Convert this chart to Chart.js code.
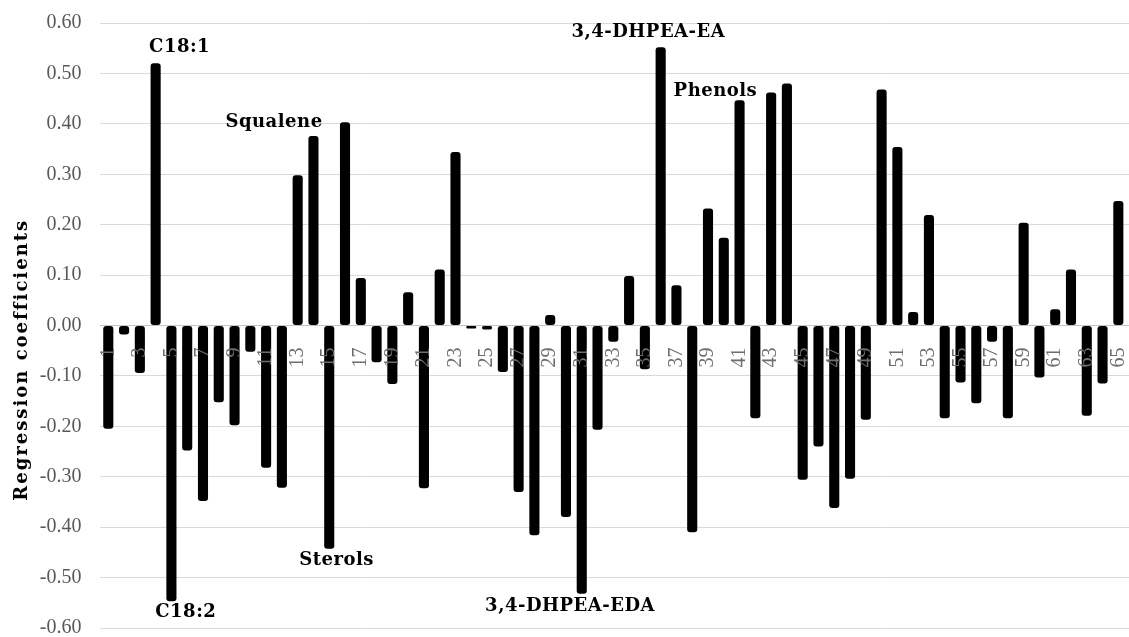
<!DOCTYPE html>
<html>
<head>
<meta charset="utf-8">
<script src="https://cdn.jsdelivr.net/npm/chart.js@4.4.1/dist/chart.umd.min.js"></script>
<style>
  html, body { margin: 0; padding: 0; background: #fff; overflow: hidden; }
  #wrap { width: 1150px; height: 637px; }
</style>
</head>
<body>
<div id="wrap"><canvas id="coefChart"></canvas></div>
<script>
// variable numbers 1..66
const categories = [
  '1', '2', '3', '4', '5', '6', '7', '8', '9', '10',
  '11', '12', '13', '14', '15', '16', '17', '18', '19', '20',
  '21', '22', '23', '24', '25', '26', '27', '28', '29', '30',
  '31', '32', '33', '34', '35', '36', '37', '38', '39', '40',
  '41', '42', '43', '44', '45', '46', '47', '48', '49', '50',
  '51', '52', '53', '54', '55', '56', '57', '58', '59', '60',
  '61', '62', '63', '64', '65', '66'
];

// regression coefficients
const coefficients = [
  -0.205, -0.018, -0.094, 0.520, -0.547, -0.248, -0.348, -0.152, -0.198, -0.052,
  -0.282, -0.322, 0.298, 0.376, -0.443, 0.403, 0.094, -0.073, -0.116, 0.066,
  -0.323, 0.111, 0.344, -0.006, -0.008, -0.092, -0.330, -0.416, 0.021, -0.380,
  -0.532, -0.207, -0.032, 0.098, -0.087, 0.552, 0.080, -0.410, 0.232, 0.174,
  0.447, -0.184, 0.462, 0.480, -0.306, -0.240, -0.362, -0.304, -0.187, 0.468,
  0.354, 0.027, 0.219, -0.184, -0.113, -0.154, -0.032, -0.184, 0.204, -0.103,
  0.032, 0.111, -0.179, -0.115, 0.247, -0.141
];

const yMin = -0.6;
const yMax = 0.6;
const yStep = 0.1;

// text notes on the plot, anchored in data units (category index, value)
const noteTexts = ['C18:1', 'C18:2', 'Squalene', 'Sterols', '3,4-DHPEA-EA', '3,4-DHPEA-EDA', 'Phenols'];
const noteAnchors = [[4.52, 0.551], [4.91, -0.569], [10.5, 0.403], [14.46, -0.465], [34.22, 0.582], [29.26, -0.557], [38.47, 0.465]];

const yTitle = 'Regression coefficients';

const notesPlugin = {
  id: 'notes',
  afterDraw(chart) {
    const { ctx, scales } = chart;
    const x = scales.x, y = scales.y;
    ctx.save();
    ctx.fillStyle = '#000';
    ctx.font = 'bold 18px "DejaVu Serif"';
    ctx.textAlign = 'center';
    ctx.textBaseline = 'middle';
    ctx.letterSpacing = '0.5px';
    noteTexts.forEach((t, i) => {
      const a = noteAnchors[i];
      ctx.fillText(t, x.getPixelForValue(a[0]), y.getPixelForValue(a[1]));
    });
    // axis title sits a little below the middle, as in the original
    ctx.letterSpacing = '2px';
    ctx.translate(22, y.getPixelForValue(-0.068));
    ctx.rotate(-Math.PI / 2);
    ctx.fillText(yTitle, 0, 0);
    ctx.restore();
  }
};

Chart.defaults.font.family = '"Liberation Serif"';

const ctx = document.getElementById('coefChart').getContext('2d');
new Chart(ctx, {
  type: 'bar',
  data: {
    labels: categories,
    datasets: [{
      data: coefficients,
      backgroundColor: '#000',
      borderWidth: 0,
      borderRadius: 3,
      borderSkipped: false,
      barPercentage: 0.64,
      categoryPercentage: 1
    }]
  },
  options: {
    responsive: true,
    maintainAspectRatio: false,
    animation: false,
    layout: { padding: { top: 23, bottom: 9, left: 0, right: 8 } },
    plugins: {
      legend: { display: false },
      tooltip: { enabled: false }
    },
    scales: {
      x: {
        position: { y: 0 },
        grid: { display: false },
        border: { display: true, color: '#c4c4c4', width: 1, z: 1 },
        ticks: {
          z: 1,
          autoSkip: false,
          minRotation: 90,
          maxRotation: 90,
          padding: 14,
          color: '#6e6e6e',
          font: { size: 20 },
          callback(v, i) { return i % 2 === 0 ? categories[i] : ''; }
        },
        afterFit(s) { s.paddingLeft = 0; s.paddingRight = 0; }
      },
      y: {
        min: yMin,
        max: yMax,
        grid: { color: '#d9d9d9', lineWidth: 1, drawTicks: false },
        border: { display: false },
        ticks: {
          stepSize: yStep,
          padding: 19,
          color: '#595959',
          font: { size: 20 },
          callback(v) { return v.toFixed(2); }
        },
        afterFit(s) { s.width = 100.4; s.paddingTop = 0; s.paddingBottom = 0; }
      }
    }
  },
  plugins: [notesPlugin]
});
</script>
</body>
</html>
